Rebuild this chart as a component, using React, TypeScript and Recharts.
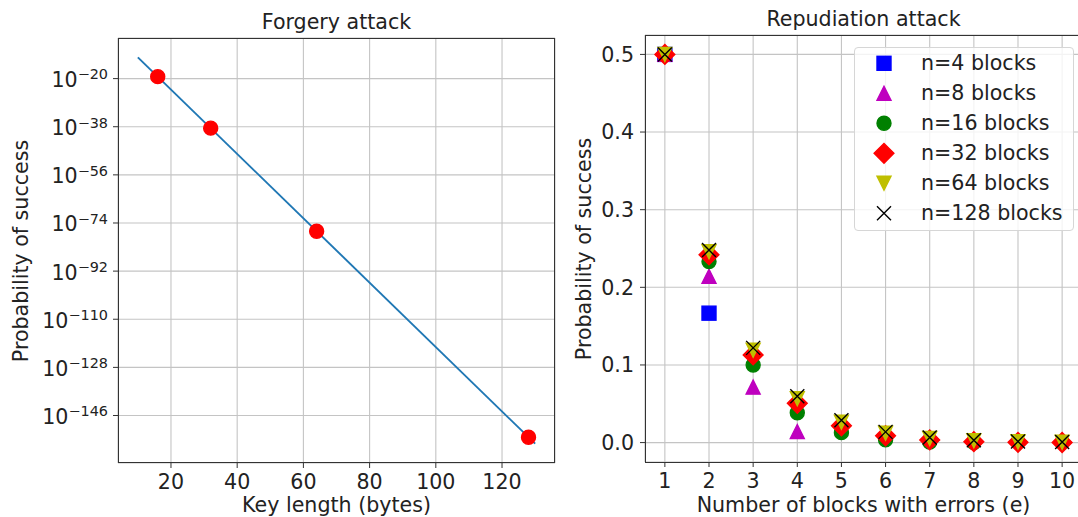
import React from "react";
import { ComposedChart, Line, Scatter, XAxis, YAxis, CartesianGrid } from "recharts";

const FONT = '"DejaVu Sans", "Noto Sans", sans-serif';
const TEXT = "#222";
const GRID = "#c4c4c4";
const FS = 20.6;

// Forgery attack
const keyLengths = [16, 32, 64, 128];
const forgeryProb = [5.4e-20, 2.9e-39, 8.6e-78, 7.5e-155];
const fitKeyLengths = [10, 130];
const fitProb = [9.1e-13, 2.9e-157];
const keyTicks = [20, 40, 60, 80, 100, 120];
const probTicks = [1e-20, 1e-38, 1e-56, 1e-74, 1e-92, 1e-110, 1e-128, 1e-146];

// Repudiation attack
const errorBlocks = [1, 2, 3, 4, 5, 6, 7, 8, 9, 10];
const n4 = [0.5, 0.1667];
const n8 = [0.5, 0.2143, 0.0714, 0.0143];
const n16 = [0.5, 0.2333, 0.1, 0.0385, 0.0128, 0.0035, 0.0007, 0.0001];
const n32 = [0.5, 0.2419, 0.1129, 0.0506, 0.0217, 0.0088, 0.0034, 0.0012, 0.0004, 0.0001];
const n64 = [0.5, 0.246, 0.119, 0.0566, 0.0264, 0.0121, 0.0054, 0.0024, 0.001, 0.0004];
const n128 = [0.5, 0.248, 0.122, 0.0596, 0.0288, 0.0138, 0.0066, 0.0031, 0.0014, 0.0007];
const repTicks = [0, 0.1, 0.2, 0.3, 0.4, 0.5];

const series = [
  { name: "n=4 blocks", values: n4, color: "#0000ff", kind: "square" },
  { name: "n=8 blocks", values: n8, color: "#bf00bf", kind: "triUp" },
  { name: "n=16 blocks", values: n16, color: "#008000", kind: "circle" },
  { name: "n=32 blocks", values: n32, color: "#ff0000", kind: "diamond" },
  { name: "n=64 blocks", values: n64, color: "#bfbf00", kind: "triDown" },
  { name: "n=128 blocks", values: n128, color: "#000000", kind: "x" },
];

const fitData = fitKeyLengths.map((k, i) => ({ k, p: fitProb[i] }));
const pointData = keyLengths.map((k, i) => ({ k, p: forgeryProb[i] }));

const Marker = ({ kind, color, cx, cy }: any) => {
  const sw = 1.4;
  switch (kind) {
    case "square":
      return <rect x={cx - 7} y={cy - 7} width={14} height={14} fill={color} stroke={color} strokeWidth={sw} />;
    case "triUp":
      return <polygon points={`${cx},${cy - 7} ${cx - 7},${cy + 7} ${cx + 7},${cy + 7}`} fill={color} stroke={color} strokeWidth={sw} />;
    case "triDown":
      return <polygon points={`${cx},${cy + 7} ${cx - 7},${cy - 7} ${cx + 7},${cy - 7}`} fill={color} stroke={color} strokeWidth={sw} />;
    case "circle":
      return <circle cx={cx} cy={cy} r={7} fill={color} stroke={color} strokeWidth={sw} />;
    case "diamond":
      return <polygon points={`${cx},${cy - 9.9} ${cx + 9.9},${cy} ${cx},${cy + 9.9} ${cx - 9.9},${cy}`} fill={color} stroke={color} strokeWidth={sw} />;
    default:
      return <path d={`M${cx - 7},${cy - 7}L${cx + 7},${cy + 7}M${cx - 7},${cy + 7}L${cx + 7},${cy - 7}`} stroke={color} strokeWidth={sw} fill="none" />;
  }
};

const PowerTick = ({ x, y, payload }: any) => {
  const exp = Math.round(Math.log10(payload.value));
  return (
    <text x={x} y={y} textAnchor="end" fill={TEXT} fontFamily={FONT}>
      <tspan fontSize={FS} dy={8.4}>10</tspan>
      <tspan fontSize={14.4} dy={-7.6}>{`\u2212${Math.abs(exp)}`}</tspan>
    </text>
  );
};

const tickStyle = { fill: TEXT, fontSize: FS, fontFamily: FONT };

const Frame = ({ left, top, width, height }: any) => (
  <div style={{ position: "absolute", left, top, width, height, border: "1.1px solid #333", boxSizing: "border-box", pointerEvents: "none" }} />
);

const Label = ({ x, y, text, rotate }: any) => (
  <div
    style={{
      position: "absolute",
      left: x,
      top: y,
      transform: `translate(-50%, -50%)${rotate ? " rotate(-90deg)" : ""}`,
      whiteSpace: "nowrap",
      fontFamily: FONT,
      fontSize: FS,
      color: TEXT,
      lineHeight: 1,
    }}
  >
    {text}
  </div>
);

export default function App() {
  return (
    <div style={{ position: "fixed", left: 0, top: 0, width: 1078, height: 517, overflow: "hidden", background: "#fff" }}>
      {/* left panel: plot area x 118..555, y 38..463 */}
      <div style={{ position: "absolute", left: 0, top: 0 }}>
        <ComposedChart width={600} height={517} margin={{ top: 38, right: 45, bottom: 24, left: 18 }}>
          <CartesianGrid stroke={GRID} strokeWidth={1.1} />
          <XAxis
            dataKey="k"
            type="number"
            domain={[4, 136]}
            ticks={keyTicks}
            allowDataOverflow
            axisLine={false}
            tickSize={5}
            tickLine={{ stroke: "#333" }}
            tickMargin={6}
            height={30}
            tick={tickStyle}
          />
          <YAxis
            dataKey="p"
            type="number"
            scale="log"
            domain={[1.73e-164, 1.53e-5]}
            ticks={probTicks}
            allowDataOverflow
            axisLine={false}
            tickSize={5}
            tickLine={{ stroke: "#333" }}
            tickMargin={5}
            width={100}
            tick={<PowerTick />}
            interval={0}
          />
          <Line data={fitData} dataKey="p" type="linear" stroke="#1f77b4" strokeWidth={1.9} dot={false} isAnimationActive={false} />
          <Scatter
            data={pointData}
            dataKey="p"
            fill="#ff0000"
            isAnimationActive={false}
            shape={(p: any) => <Marker kind="circle" color="#ff0000" cx={p.cx} cy={p.cy} />}
          />
        </ComposedChart>
      </div>
      <Frame left={118} top={38} width={437} height={425} />
      <Label x={336.5} y={22} text="Forgery attack" />
      <Label x={336.5} y={505} text="Key length (bytes)" />
      <Label x={21} y={250.5} text="Probability of success" rotate />

      {/* right panel: plot area x 645..1082, y 35..462 */}
      <div style={{ position: "absolute", left: 560, top: 0 }}>
        <ComposedChart width={540} height={517} margin={{ top: 35, right: 18, bottom: 25, left: 25 }}>
          <CartesianGrid stroke={GRID} strokeWidth={1.1} />
          <XAxis
            dataKey="e"
            type="number"
            domain={[0.55, 10.45]}
            ticks={errorBlocks}
            allowDataOverflow
            axisLine={false}
            tickSize={5}
            tickLine={{ stroke: "#333" }}
            tickMargin={6}
            height={30}
            tick={tickStyle}
            interval={0}
          />
          <YAxis
            dataKey="p"
            type="number"
            domain={[-0.025, 0.525]}
            ticks={repTicks}
            allowDataOverflow
            axisLine={false}
            tickSize={5}
            tickLine={{ stroke: "#333" }}
            tickMargin={6}
            width={60}
            tick={tickStyle}
            tickFormatter={(v: number) => v.toFixed(1)}
            interval={0}
          />
          {series.map((s) => (
            <Scatter
              key={s.name}
              name={s.name}
              data={s.values.map((v, i) => ({ e: errorBlocks[i], p: v }))}
              dataKey="p"
              fill={s.color}
              isAnimationActive={false}
              shape={(p: any) => <Marker kind={s.kind} color={s.color} cx={p.cx} cy={p.cy} />}
            />
          ))}
        </ComposedChart>
      </div>
      <div style={{ position: "absolute", left: 645, top: 35, width: 437, height: 428, borderLeft: "1.1px solid #333", borderTop: "1.1px solid #333", borderBottom: "1.1px solid #333", boxSizing: "border-box", pointerEvents: "none" }} />
      <Label x={863.5} y={19} text="Repudiation attack" />
      <Label x={863.5} y={505} text="Number of blocks with errors (e)" />
      <Label x={584} y={248.7} text="Probability of success" rotate />

      {/* legend */}
      <div
        style={{
          position: "absolute",
          left: 854,
          top: 47,
          width: 220,
          height: 184,
          border: "1px solid #d6d6d6",
          borderRadius: 4,
          background: "rgba(255,255,255,0.8)",
          boxSizing: "border-box",
        }}
      >
        {series.map((s, i) => (
          <div key={s.name} style={{ position: "absolute", left: 0, top: 0 + i * 30, height: 30, width: 218 }}>
            <svg width={30} height={30} style={{ position: "absolute", left: 13.7, top: 0 }}>
              <Marker kind={s.kind} color={s.color} cx={15} cy={15.3} />
            </svg>
            <span style={{ position: "absolute", left: 66, top: 5, fontFamily: FONT, fontSize: FS, color: TEXT, lineHeight: 1, whiteSpace: "nowrap" }}>
              {s.name}
            </span>
          </div>
        ))}
      </div>
    </div>
  );
}
